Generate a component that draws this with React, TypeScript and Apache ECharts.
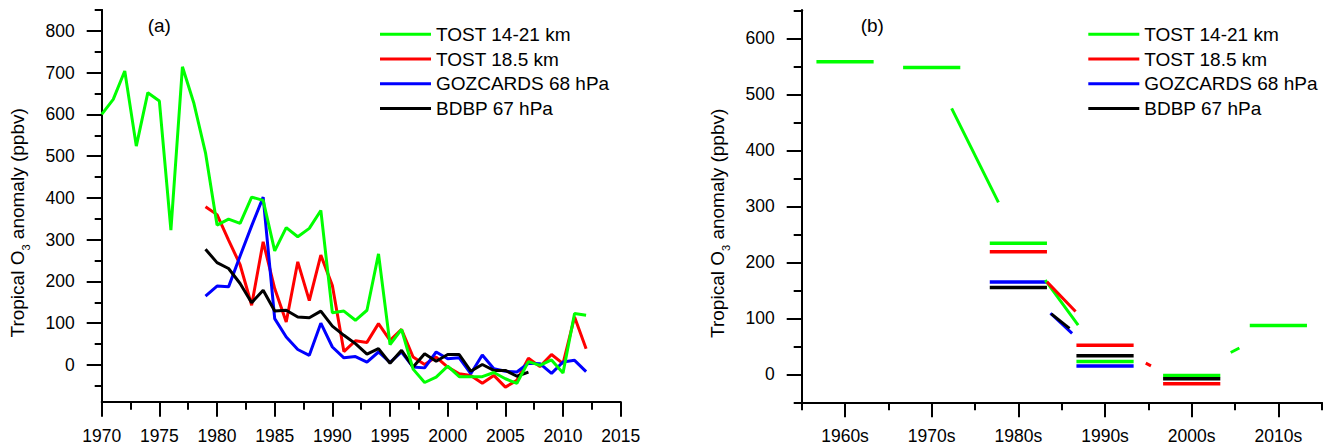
import React, { useEffect, useRef } from "react";
import * as echarts from "echarts";

const FONT = "Liberation Sans";
const SERIES_NAMES = ["TOST 14-21 km", "TOST 18.5 km", "GOZCARDS 68 hPa", "BDBP 67 hPa"];
const COLORS = ["#00ff00", "#ff0000", "#0000ff", "#000000"];

// ---- Panel (a): annual anomalies (ppbv) ----
const tostWideStart = 1970;
const tostWide = [
  600, 636, 704, 524, 652, 632, 323, 714, 626, 508,
  335, 349, 339, 402, 394, 273, 329, 307, 327, 370,
  125, 129, 107, 131, 266, 49, 85, -10, -42, -29,
  -3, -28, -28, -28, -18, -33, -44, 8, -1, 12,
  -19, 123, 119,
];
const tostNarrowStart = 1979;
const tostNarrow = [
  379, 360, 299, 240, 143, 295, 183, 103, 247, 154,
  263, 190, 32, 58, 54, 99, 59, 85, 19, 1,
  19, -5, -21, -25, -44, -25, -53, -37, 16, -4,
  25, 3, 115, 39,
];
const gozcardsStart = 1979;
const gozcards = [
  165, 189, 187, 261, 333, 402, 111, 67, 37, 23,
  100, 43, 17, 20, 7, 31, 6, 31, -5, -7,
  31, 15, 17, -21, 24, -9, -15, -17, 4, 3,
  -20, 7, 11, -16,
];
const bdbpStart = 1979;
const bdbp = [
  277, 245, 231, 195, 149, 179, 129, 131, 115, 113,
  129, 93, 71, 51, 26, 39, 4, 35, -5, 27,
  9, 25, 25, -15, 1, -13, -13, -27, -17,
];

const panelAYMajorTicks = [0, 100, 200, 300, 400, 500, 600, 700, 800];
const panelAYMinorTicks = [-50, 50, 150, 250, 350, 450, 550, 650, 750, 850];

// ---- Panel (b): decadal means and trend segments ----
const decadeCenters = [1960, 1970, 1980, 1990, 2000, 2010];
const decadeLabels = ["1960s", "1970s", "1980s", "1990s", "2000s", "2010s"];
const decadeBoundaries = [1955, 1965, 1975, 1985, 1995, 2005, 2015];
const decadeHalfSpan = 3.3;

const tostWideDecadal = [558, 548, 234, 23, -2, 87];
const tostNarrowDecadal = [null, null, 219, 52, -17, null];
const gozcardsDecadal = [null, null, 165, 15, null, null];
const bdbpDecadal = [null, null, 155, 33, -8, null];

// [x1, y1, x2, y2]
const tostWideTrends = [
  [1972.3, 475, 1977.7, 307],
  [1983.1, 168, 1986.9, 88],
  [2004.5, 39, 2005.5, 47],
];
const tostNarrowTrends = [
  [1983.3, 165, 1986.6, 112],
  [1994.7, 20, 1995.3, 15],
];
const gozcardsTrends = [[1983.7, 109, 1986.2, 73]];
const bdbpTrends = [[1983.8, 108, 1985.9, 82]];

const panelBYMajorTicks = [0, 100, 200, 300, 400, 500, 600];
const panelBYMinorTicks = [-50, 50, 150, 250, 350, 450, 550, 650];

const toPairs = (start: number, vals: number[]) => vals.map((v, i) => [start + i, v]);

const decadalSegments = (vals: (number | null)[]) => {
  const out: any[] = [];
  vals.forEach((v, i) => {
    if (v === null) return;
    const c = decadeCenters[i];
    out.push([c - decadeHalfSpan, v], [c + decadeHalfSpan, v], [c + 4.5, null]);
  });
  return out;
};

const trendSegments = (segs: number[][]) => {
  const out: any[] = [];
  segs.forEach(([x1, y1, x2, y2]) => {
    out.push([x1, y1], [x2, y2], [x2 + 0.1, null]);
  });
  return out;
};

const axisLineStyle = { color: "#000", width: 2 };
const tickLabelStyle = { fontSize: 17.5, color: "#000", fontFamily: FONT };
const nameStyle = {
  fontSize: 19,
  color: "#000",
  fontFamily: FONT,
  lineHeight: 28,
  padding: [0, 34, 0, 0],
  rich: {
    sub: { fontSize: 11, lineHeight: 12, verticalAlign: "bottom", fontFamily: FONT, color: "#000" },
  },
};

export default function App() {
  const ref = useRef<HTMLDivElement>(null);

  useEffect(() => {
    document.body.style.margin = "0";
    if (!ref.current) return;
    const chart = echarts.init(ref.current, null, { renderer: "svg" });

    const lineA = (idx: number, start: number, vals: number[]) => ({
      name: SERIES_NAMES[idx],
      type: "line",
      xAxisIndex: 0,
      yAxisIndex: 0,
      data: toPairs(start, vals),
      showSymbol: false,
      symbol: "none",
      lineStyle: { color: COLORS[idx], width: 3 },
      itemStyle: { color: COLORS[idx] },
      silent: true,
    });

    const lineB = (idx: number, data: any[], width: number) => ({
      name: SERIES_NAMES[idx],
      type: "line",
      xAxisIndex: 1,
      yAxisIndex: 2,
      data,
      showSymbol: false,
      symbol: "none",
      connectNulls: false,
      lineStyle: { color: COLORS[idx], width, cap: "butt" },
      itemStyle: { color: COLORS[idx] },
      silent: true,
    });

    const legendBase = {
      orient: "vertical",
      top: 24.3,
      padding: 0,
      itemWidth: 51,
      itemHeight: 3,
      itemGap: 4.7,
      icon: "rect",
      selectedMode: false,
      data: SERIES_NAMES,
      textStyle: { fontSize: 19, lineHeight: 20, color: "#000", fontFamily: FONT },
    };

    chart.setOption({
      animation: false,
      backgroundColor: "#fff",
      grid: [
        { left: 101.7, top: 10, width: 519, height: 391.7 },
        { left: 801.7, top: 10.3, width: 520, height: 392 },
      ],
      xAxis: [
        {
          type: "value",
          gridIndex: 0,
          position: "bottom",
          min: 1970,
          max: 2015,
          interval: 5,
          axisLine: { show: true, onZero: false, lineStyle: axisLineStyle },
          axisTick: { show: true, length: 15, lineStyle: axisLineStyle },
          minorTick: { show: true, splitNumber: 2, length: 8, lineStyle: axisLineStyle },
          axisLabel: { ...tickLabelStyle, margin: 25, formatter: (v: number) => String(v) },
          splitLine: { show: false },
          minorSplitLine: { show: false },
        },
        {
          type: "value",
          gridIndex: 1,
          position: "bottom",
          min: 1955,
          max: 2015,
          axisLine: { show: true, onZero: false, lineStyle: axisLineStyle },
          axisTick: { show: true, length: 15, lineStyle: axisLineStyle, customValues: decadeCenters },
          axisLabel: {
            ...tickLabelStyle,
            margin: 25,
            customValues: decadeCenters,
            formatter: (v: number) => decadeLabels[decadeCenters.indexOf(v)] ?? "",
          },
          splitLine: { show: false },
        },
        {
          type: "value",
          gridIndex: 1,
          position: "bottom",
          offset: 0,
          min: 1955,
          max: 2015,
          axisLine: { show: true, onZero: false, lineStyle: axisLineStyle },
          axisTick: { show: true, length: 8, lineStyle: axisLineStyle, customValues: decadeBoundaries },
          axisLabel: { show: false },
          splitLine: { show: false },
        },
      ],
      yAxis: [
        {
          type: "value",
          gridIndex: 0,
          position: "left",
          min: -88,
          max: 850,
          axisLine: { show: true, onZero: false, lineStyle: axisLineStyle },
          axisTick: { show: true, length: 15, lineStyle: axisLineStyle, customValues: panelAYMajorTicks },
          axisLabel: { ...tickLabelStyle, margin: 27, customValues: panelAYMajorTicks },
          splitLine: { show: false },
          name: "Tropical O{sub|3} anomaly (ppbv)",
          nameLocation: "middle",
          nameRotate: 90,
          nameGap: 70,
          nameTextStyle: nameStyle,
        },
        {
          type: "value",
          gridIndex: 0,
          position: "left",
          offset: 0,
          min: -88,
          max: 850,
          axisLine: { show: true, onZero: false, lineStyle: axisLineStyle },
          axisTick: { show: true, length: 7, lineStyle: axisLineStyle, customValues: panelAYMinorTicks },
          axisLabel: { show: false },
          splitLine: { show: false },
        },
        {
          type: "value",
          gridIndex: 1,
          position: "left",
          min: -50,
          max: 650,
          axisLine: { show: true, onZero: false, lineStyle: axisLineStyle },
          axisTick: { show: true, length: 15, lineStyle: axisLineStyle, customValues: panelBYMajorTicks },
          axisLabel: { ...tickLabelStyle, margin: 27, customValues: panelBYMajorTicks },
          splitLine: { show: false },
          name: "Tropical O{sub|3} anomaly (ppbv)",
          nameLocation: "middle",
          nameRotate: 90,
          nameGap: 70,
          nameTextStyle: nameStyle,
        },
        {
          type: "value",
          gridIndex: 1,
          position: "left",
          offset: 0,
          min: -50,
          max: 650,
          axisLine: { show: true, onZero: false, lineStyle: axisLineStyle },
          axisTick: { show: true, length: 8, lineStyle: axisLineStyle, customValues: panelBYMinorTicks },
          axisLabel: { show: false },
          splitLine: { show: false },
        },
      ],
      legend: [
        { ...legendBase, left: 380 },
        { ...legendBase, left: 1088.3 },
      ],
      graphic: [
        {
          type: "text",
          x: 147.7,
          y: 25,
          style: { text: "(a)", fontSize: 19, fontFamily: FONT, fill: "#000", verticalAlign: "middle" },
        },
        {
          type: "text",
          x: 860.7,
          y: 25,
          style: { text: "(b)", fontSize: 19, fontFamily: FONT, fill: "#000", verticalAlign: "middle" },
        },
      ],
      series: [
        lineA(1, tostNarrowStart, tostNarrow),
        lineA(2, gozcardsStart, gozcards),
        lineA(3, bdbpStart, bdbp),
        lineA(0, tostWideStart, tostWide),
        lineB(0, decadalSegments(tostWideDecadal), 3.5),
        lineB(1, decadalSegments(tostNarrowDecadal), 3.5),
        lineB(2, decadalSegments(gozcardsDecadal), 3.5),
        lineB(3, decadalSegments(bdbpDecadal), 3.5),
        lineB(0, trendSegments(tostWideTrends), 3),
        lineB(1, trendSegments(tostNarrowTrends), 3),
        lineB(2, trendSegments(gozcardsTrends), 3),
        lineB(3, trendSegments(bdbpTrends), 3),
      ],
    });

    return () => chart.dispose();
  }, []);

  return <div ref={ref} style={{ width: 1337, height: 446 }} />;
}
